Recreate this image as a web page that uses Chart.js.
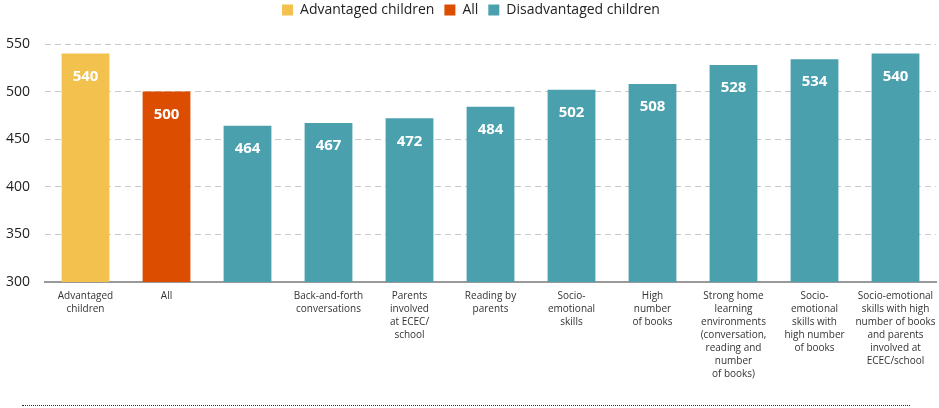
<!DOCTYPE html>
<html>
<head>
<meta charset="utf-8">
<script src="https://cdn.jsdelivr.net/npm/chart.js@4/dist/chart.umd.min.js"></script>
<style>
  html, body { margin: 0; padding: 0; background: #fff; overflow: hidden; }
  #wrap { position: relative; width: 939px; height: 404px; margin-top: -7px; }
  #rule { position: absolute; left: 22px; top: 405px; width: 888px; border-top: 1px dotted #333; }
</style>
</head>
<body>
<div id="wrap"><canvas id="chart"></canvas></div>
<div id="rule"></div>
<script>
// categories (line breaks as in the original)
const categories = [
    ['Advantaged', 'children'],
    'All',
    '',
    ['Back-and-forth', 'conversations'],
    ['Parents', 'involved', 'at ECEC/', 'school'],
    ['Reading by', 'parents'],
    ['Socio-', 'emotional', 'skills'],
    ['High', 'number', 'of books'],
    ['Strong home', 'learning', 'environments', '(conversation,', 'reading and', 'number', 'of books)'],
    ['Socio-', 'emotional', 'skills with', 'high number', 'of books'],
    ['Socio-emotional', 'skills with high', 'number of books', 'and parents', 'involved at', 'ECEC/school']
];

const advantaged = [540, null, null, null, null, null, null, null, null, null, null];
const allChildren = [null, 500, null, null, null, null, null, null, null, null, null];
const disadvantaged = [null, null, 464, 467, 472, 484, 502, 508, 528, 534, 540];

const yTicks = [300, 350, 400, 450, 500, 550];

const FONT = '"Open Sans", "Noto Sans", sans-serif';

// white value labels inside the top of each bar
const valueLabels = {
    id: 'valueLabels',
    afterDatasetsDraw(chart) {
        const ctx = chart.ctx;
        ctx.save();
        ctx.fillStyle = '#fff';
        ctx.font = 'bold 15px ' + FONT;
        ctx.textAlign = 'center';
        ctx.textBaseline = 'middle';
        chart.data.datasets.forEach((ds, i) => {
            chart.getDatasetMeta(i).data.forEach((bar, j) => {
                if (ds.data[j] == null) return;
                ctx.fillText(ds.data[j], bar.x, bar.y + 23);
            });
        });
        ctx.restore();
    }
};

// extra room between legend and plot
const legendGap = {
    id: 'legendGap',
    beforeInit(chart) {
        const fit = chart.legend.fit;
        chart.legend.fit = function () {
            fit.bind(chart.legend)();
            this.height += 17;
        };
    }
};

new Chart(document.getElementById('chart'), {
    type: 'bar',
    data: {
        labels: categories,
        datasets: [
            {label: 'Advantaged children', data: advantaged, backgroundColor: '#F2C14E'},
            {label: 'All', data: allChildren, backgroundColor: '#DD4D00'},
            {label: 'Disadvantaged children', data: disadvantaged, backgroundColor: '#4AA0AC'}
        ]
    },
    options: {
        responsive: true,
        maintainAspectRatio: false,
        animation: false,
        grouped: false,
        categoryPercentage: 1,
        barPercentage: 0.59,
        layout: {padding: {left: 6, right: 3, top: 0, bottom: 8}},
        plugins: {
            tooltip: {enabled: false},
            legend: {
                position: 'top',
                labels: {
                    font: {family: FONT, size: 14},
                    color: '#222',
                    boxWidth: 11,
                    boxHeight: 11,
                    padding: 10
                }
            }
        },
        scales: {
            y: {
                min: 300,
                max: 550,
                afterBuildTicks: axis => { axis.ticks = yTicks.map(v => ({value: v})); },
                afterFit: axis => { axis.width = 39; },
                grid: {
                    color: '#c8c8c8',
                    lineWidth: 1,
                    drawTicks: false
                },
                border: {display: false, dash: [6, 4]},
                ticks: {
                    font: {family: FONT, size: 14},
                    color: '#222',
                    padding: 15
                }
            },
            x: {
                afterFit: axis => { axis.paddingLeft = 0; axis.paddingRight = 0; },
                grid: {display: false, drawTicks: false},
                border: {color: '#999', width: 2},
                ticks: {
                    font: {family: FONT, size: 10, lineHeight: 1.3},
                    color: '#333',
                    maxRotation: 0,
                    autoSkip: false,
                    padding: 8
                }
            }
        }
    },
    plugins: [valueLabels, legendGap]
});
</script>
</body>
</html>
